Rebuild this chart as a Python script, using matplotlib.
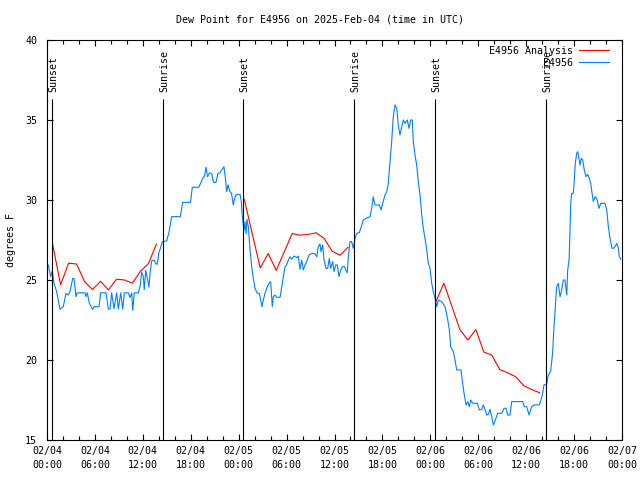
import matplotlib
matplotlib.use("Agg")
import matplotlib.pyplot as plt

# hours since 02/04 00:00 UTC
obs_hours = [
    0.16, 0.46, 0.66, 0.88, 1.21, 1.63, 2.04, 2.38, 2.67, 2.88, 3.22, 3.38, 3.63, 3.79,
    4.76, 4.88, 5.05, 5.30, 5.72, 5.92, 6.51, 6.72, 7.39, 7.68, 7.89, 8.10, 8.39, 8.73,
    8.93, 9.23, 9.48, 9.68, 10.18, 10.39, 10.61, 10.73, 10.93, 11.43, 11.65, 11.86,
    12.06, 12.18, 12.36, 12.61, 12.77, 12.90, 13.11, 13.40, 13.65, 13.81, 13.99, 14.21,
    14.44, 14.99, 15.28, 15.61, 16.69, 16.99, 17.97, 18.19, 19.01, 19.22, 19.50, 19.72,
    19.91, 20.10, 20.35, 20.62, 20.85, 21.16, 21.39, 21.66, 21.91, 22.16, 22.33, 22.50,
    22.67, 22.88, 23.10, 23.33, 23.54, 23.75, 24.17, 24.33, 24.46, 24.58, 24.67, 24.79,
    24.92, 25.04, 25.22, 25.42, 25.63, 25.83, 26.05, 26.33, 26.58, 26.76, 26.92, 27.09,
    27.30, 27.51, 27.80, 28.01, 28.21, 28.34, 28.55, 28.76, 29.18, 29.46, 29.80, 30.01,
    30.22, 30.43, 30.64, 30.93, 31.27, 31.47, 31.68, 31.89, 32.09, 32.31, 32.52, 32.81,
    33.15, 33.56, 33.77, 33.97, 34.18, 34.31, 34.52, 34.69, 34.94, 35.15, 35.35, 35.52,
    35.78, 35.94, 36.15, 36.35, 36.56, 36.78, 37.03, 37.23, 37.44, 37.60, 37.73, 37.94,
    38.15, 38.35, 38.57, 38.78, 39.11, 39.41, 39.61, 39.94, 40.45, 40.66, 40.86, 41.07,
    41.61, 41.82, 42.04, 42.32, 42.54, 42.74, 42.95, 43.16, 43.36, 43.58, 43.79, 43.99,
    44.20, 44.42, 44.62, 44.83, 45.12, 45.33, 45.54, 45.74, 45.87, 46.08, 46.29, 46.49,
    46.71, 46.92, 47.12, 47.33, 47.55, 47.75, 47.96, 48.17, 48.37, 48.59, 48.80, 49.00,
    49.42, 49.84, 50.12, 50.38, 50.55, 50.88, 51.09, 51.30, 51.84, 52.05, 52.22, 52.47,
    52.68, 52.88, 53.06, 53.31, 53.59, 53.88, 54.13, 54.43, 54.63, 54.85, 55.06, 55.26,
    55.47, 55.68, 55.89, 56.10, 56.44, 56.94, 57.23, 57.48, 57.69, 57.98, 58.19, 59.57,
    59.77, 60.07, 60.36, 60.69, 60.98, 61.65, 61.86, 62.07, 62.23, 62.57, 62.77, 63.07,
    63.32, 63.48, 63.65, 63.82, 64.03, 64.24, 64.45, 64.65, 64.86, 65.08, 65.20, 65.37,
    65.49, 65.58, 65.70, 65.90, 65.99, 66.15, 66.33, 66.45, 66.58, 66.74, 66.91, 67.08,
    67.24, 67.49, 67.71, 67.91, 68.08, 68.25, 68.41, 68.62, 68.84, 69.12, 69.34, 69.87,
    70.09, 70.29, 70.50, 70.75, 70.91, 71.12, 71.34, 71.54, 71.66, 71.85,
]
obs_dewpt = [
    25.94, 25.20, 25.58, 24.79, 24.27, 23.17, 23.33, 24.17, 24.06, 24.27, 25.10, 25.10, 23.96, 24.20,
    24.20, 23.96, 24.20, 23.54, 23.17, 23.33, 23.33, 24.20, 24.20, 23.17, 23.20, 24.20, 23.20, 24.20,
    23.20, 24.20, 23.17, 24.20, 24.20, 23.90, 24.20, 23.10, 24.20, 24.20, 24.60, 25.50,
    25.20, 24.40, 25.60, 25.00, 24.56, 25.40, 26.20, 26.25, 26.00, 26.00, 26.67, 27.00,
    27.40, 27.44, 28.00, 28.96, 28.96, 29.85, 29.85, 30.79, 30.80, 31.04, 31.35, 31.50,
    32.05, 31.46, 31.70, 31.65, 31.10, 31.10, 31.65, 31.70, 31.90, 32.08, 31.40, 30.52,
    30.95, 30.55, 30.42, 29.69, 30.20, 30.35, 30.35, 29.90, 28.94, 28.44, 28.10, 28.65,
    27.90, 28.80, 28.30, 26.90, 25.83, 25.10, 24.48, 24.17, 24.17, 23.75, 23.33, 23.75,
    24.17, 24.48, 24.79, 24.90, 23.33, 23.96, 24.06, 23.92, 23.92, 24.79, 25.83, 25.94,
    26.25, 26.46, 26.30, 26.50, 26.40, 26.50, 25.67, 26.25, 25.63, 25.94, 26.15, 26.56,
    26.67, 26.63, 26.46, 27.08, 27.25, 26.77, 27.19, 26.25, 25.73, 25.73, 26.35, 25.73,
    26.15, 25.52, 25.94, 25.94, 25.21, 25.63, 25.85, 25.85, 25.58, 25.46, 26.46, 27.40,
    27.40, 26.98, 27.60, 27.92, 27.96, 28.44, 28.75, 28.85, 28.96, 29.48, 30.20, 29.69,
    29.69, 29.38, 29.79, 30.31, 30.52, 31.04, 32.40, 33.65, 35.21, 35.94, 35.73, 34.69,
    34.06, 34.58, 35.00, 34.79, 35.00, 34.48, 35.00, 35.00, 33.65, 32.81, 32.19, 31.15,
    30.31, 29.06, 28.23, 27.60, 26.88, 26.04, 25.73, 24.80, 24.27, 23.85, 23.33, 23.75,
    23.65, 23.33, 22.70, 21.88, 20.83, 20.52, 20.00, 19.38, 19.38, 18.54, 17.92, 17.19,
    17.40, 17.08, 17.50, 17.30, 17.29, 17.30, 16.88, 16.90, 17.19, 16.90, 16.56, 16.60,
    16.92, 16.46, 15.94, 16.20, 16.67, 16.67, 16.98, 16.98, 16.56, 16.56, 17.40, 17.40,
    17.08, 17.08, 16.56, 17.08, 17.19, 17.19, 17.50, 17.92, 18.44, 18.50, 19.06, 19.30,
    20.50, 22.08, 23.33, 24.58, 24.79, 23.96, 24.38, 25.00, 25.00, 24.06, 25.63, 26.25,
    28.13, 29.79, 30.42, 30.42, 30.94, 32.29, 32.92, 33.02, 32.71, 32.19, 32.60, 32.50,
    31.98, 31.46, 31.60, 31.35, 31.04, 30.42, 29.90, 30.20, 30.10, 29.48, 29.79, 29.79,
    29.38, 28.33, 27.60, 26.98, 26.98, 27.08, 27.29, 27.00, 26.46, 26.30,
]

# hourly analysis, three night-time pieces
anl_hours_1 = [0.7, 1.7, 2.7, 3.7, 4.7, 5.7, 6.7, 7.7, 8.7, 9.7, 10.7, 11.7, 12.7, 13.7]
anl_dewpt_1 = [27.25, 24.7, 26.05, 26.0, 24.9, 24.4, 24.92, 24.38, 25.05, 25.0, 24.8, 25.55, 26.02, 27.25]
anl_hours_2 = [24.7, 25.7, 26.7, 27.7, 28.7, 29.7, 30.7, 31.7, 32.7, 33.7, 34.7, 35.7, 36.7, 37.7]
anl_dewpt_2 = [30.05, 27.9, 25.75, 26.65, 25.6, 26.75, 27.9, 27.8, 27.85, 27.95, 27.6, 26.8, 26.55, 27.05]
anl_hours_3 = [48.7, 49.7, 50.7, 51.7, 52.7, 53.7, 54.7, 55.7, 56.7, 57.7, 58.7, 59.7, 60.7, 61.7]
anl_dewpt_3 = [23.65, 24.8, 23.35, 21.9, 21.25, 21.9, 20.5, 20.3, 19.4, 19.2, 18.95, 18.4, 18.15, 17.95]

sun_hours = [0.64, 14.56, 24.58, 38.48, 48.62, 62.5]
sun_labels = ["Sunset", "Sunrise", "Sunset", "Sunrise", "Sunset", "Sunrise"]

tick_hours = [0, 6, 12, 18, 24, 30, 36, 42, 48, 54, 60, 66, 72]
tick_labels = [
    "02/04\n00:00", "02/04\n06:00", "02/04\n12:00", "02/04\n18:00",
    "02/05\n00:00", "02/05\n06:00", "02/05\n12:00", "02/05\n18:00",
    "02/06\n00:00", "02/06\n06:00", "02/06\n12:00", "02/06\n18:00",
    "02/07\n00:00",
]

plt.rcParams["font.family"] = "DejaVu Sans Mono"
plt.rcParams["font.size"] = 7.2

fig = plt.figure(figsize=(6.4, 4.8), dpi=100)
ax = fig.add_axes([47 / 640, 40 / 480, 575 / 640, 400 / 480])

red = "#ff0000"
blue = "#0080ff"
ax.plot(anl_hours_1, anl_dewpt_1, color=red, lw=0.8, label="E4956 Analysis")
ax.plot(anl_hours_2, anl_dewpt_2, color=red, lw=0.8)
ax.plot(anl_hours_3, anl_dewpt_3, color=red, lw=0.8)
ax.plot(obs_hours, obs_dewpt, color=blue, lw=0.8, label="E4956")

for h, name in zip(sun_hours, sun_labels):
    ax.vlines(h, 15, 36.3, color="black", lw=0.8)
    ax.text(h + 0.1, 36.75, name, rotation=90, ha="center", va="bottom")

ax.set_xlim(0, 72)
ax.set_ylim(15, 40)
ax.set_xticks(tick_hours)
ax.set_xticklabels(tick_labels, linespacing=1.5)
ax.set_xticks(range(0, 73, 2), minor=True)
ax.set_yticks([15, 20, 25, 30, 35, 40])
ax.tick_params(direction="in", top=True, right=True, length=4, width=0.8, pad=4)
ax.tick_params(axis="y", pad=7)
ax.tick_params(which="minor", direction="in", top=True, length=3, width=0.8)
for s in ax.spines.values():
    s.set_linewidth(0.8)

leg = ax.legend(loc="upper right", bbox_to_anchor=(0.9844, 0.995), frameon=False,
                markerfirst=False, handlelength=3.0, handletextpad=0.6,
                labelspacing=0.2, borderaxespad=0.0, fontsize=7.2)

fig.text(0.5, 1 - 20 / 480, "Dew Point for E4956 on 2025-Feb-04 (time in UTC)",
         ha="center", va="center")
fig.text(11 / 640, 0.5, "degrees F", rotation=90, ha="center", va="center")

fig.savefig("out.png", dpi=100)
